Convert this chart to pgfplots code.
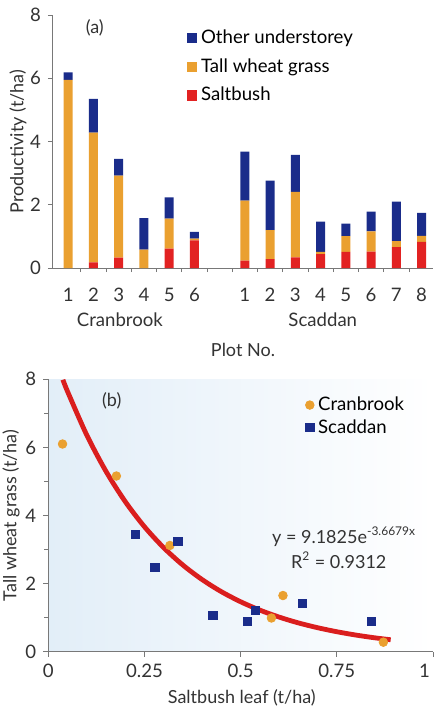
\documentclass[border=0pt]{standalone}
\usepackage{fontspec}
\setmainfont{Lato}
\usepackage{pgfplots}
\pgfplotsset{compat=1.18}

\definecolor{otherblue}{RGB}{26,44,138}
\definecolor{wheatorange}{RGB}{234,160,48}
\definecolor{saltred}{RGB}{226,34,34}
\definecolor{fitred}{RGB}{218,30,30}
\definecolor{axisgrey}{RGB}{120,120,120}
\definecolor{paleblue}{RGB}{226,238,248}

\pgfplotsset{
  common/.style={
    scale only axis,
    axis x line*=bottom, axis y line*=left,
    axis line style={axisgrey, line width=0.5pt},
    tick style={axisgrey, line width=0.4pt},
    tick align=outside,
    major tick length=2.5pt, minor tick length=2pt,
    /pgf/number format/assume math mode=true,
    tick label style={font=\fontsize{9.3}{11}\selectfont, text=black!80},
    label style={font=\fontsize{9}{11}\selectfont, text=black!80},
  },
  sqlegend/.style={legend image code/.code={\fill[##1] (0pt,-2.6pt) rectangle (5.2pt,2.6pt);}},
}

\begin{document}
\begin{tikzpicture}[font=\fontsize{9}{11}\selectfont]
\path[use as bounding box] (0,0) rectangle (217pt,-356.5pt);

% (a) stacked bars
\begin{axis}[common,
  at={(26.5pt,-134pt)}, anchor=south west,
  width=190pt, height=126.5pt,
  clip=false,
  ybar stacked, bar width=0.36,
  xmin=0.4, xmax=15.45, ymin=0, ymax=8,
  xtick={1,2,3,4,5,6,8,9,10,11,12,13,14,15},
  xticklabels={1,2,3,4,5,6,1,2,3,4,5,6,7,8},
  major x tick style={draw=none},
  minor xtick={1.5,2.5,...,14.5},
  ytick={0,2,4,6,8},
  xticklabel style={yshift=-4pt},
  xlabel={Plot No.},
  xlabel style={at={(axis description cs:0.5,-0.324)}, anchor=center},
  ylabel={Productivity (t/ha)},
  ylabel style={at={(axis description cs:-0.092,0.5)}, anchor=center},
  reverse legend,
  legend cell align=left,
  legend style={at={(axis description cs:0.335,0.975)}, anchor=north west,
    draw=none, fill=none, row sep=2pt, font=\fontsize{9.3}{11}\selectfont},
]
\addplot[fill=saltred, draw=none, sqlegend]
  coordinates {(1,0) (2,0.18) (3,0.33) (4,0) (5,0.61) (6,0.87)
    (8,0.23) (9,0.28) (10,0.34) (11,0.44) (12,0.51) (13,0.52) (14,0.66) (15,0.83)};
\addplot[fill=wheatorange, draw=none, sqlegend]
  coordinates {(1,5.95) (2,4.10) (3,2.59) (4,0.58) (5,0.95) (6,0.06)
    (8,1.90) (9,0.92) (10,2.07) (11,0.07) (12,0.50) (13,0.64) (14,0.19) (15,0.19)};
\addplot[fill=otherblue, draw=none, sqlegend]
  coordinates {(1,0.24) (2,1.07) (3,0.53) (4,1.00) (5,0.67) (6,0.21)
    (8,1.55) (9,1.56) (10,1.17) (11,0.96) (12,0.39) (13,0.62) (14,1.25) (15,0.72)};
\legend{Saltbush, Tall wheat grass, Other understorey}
\node[text=black!80] at (axis description cs:0.11,0.949) {(a)};
\node[text=black!80, font=\fontsize{9.3}{11}\selectfont] at (axis description cs:0.176,-0.206) {Cranbrook};
\node[text=black!80, font=\fontsize{9.3}{11}\selectfont] at (axis description cs:0.71,-0.206) {Scaddan};
\end{axis}

% (b) scatter with exponential fit
\begin{axis}[common,
  at={(24.15pt,-325.85pt)}, anchor=south west,
  width=192.35pt, height=136.2pt,
  xmin=0, xmax=1, ymin=0, ymax=8,
  xtick={0,0.25,0.5,0.75},
  xticklabels={0,0.25,0.5,0.75},
  extra x ticks={1},
  extra x tick labels={1},
  extra x tick style={xticklabel style={anchor=north east, xshift=2pt}},
  ytick={0,2,4,6,8},
  minor ytick={1,3,5,7},
  axis background/.style={left color=paleblue, right color=white},
  xlabel={Saltbush leaf (t/ha)},
  xlabel style={at={(axis description cs:0.503,-0.17)}, anchor=center},
  ylabel={Tall wheat grass (t/ha)},
  ylabel style={at={(axis description cs:-0.097,0.5)}, anchor=center},
  legend cell align=left,
  legend style={at={(axis description cs:0.652,0.967)}, anchor=north west,
    draw=none, fill=none, row sep=-1pt, font=\fontsize{9.3}{11}\selectfont},
]
\addplot[fitred, line width=2.4pt, smooth, forget plot] coordinates {
  (0.038,7.988) (0.05,7.644) (0.1,6.363) (0.15,5.297) (0.2,4.409)
  (0.25,3.670) (0.3,3.055) (0.35,2.543) (0.4,2.117) (0.45,1.762)
  (0.5,1.467) (0.55,1.221) (0.6,1.017) (0.65,0.846) (0.7,0.705)
  (0.75,0.587) (0.8,0.488) (0.85,0.406) (0.89,0.351)};
\addplot[only marks, mark=*, mark size=2.15pt, color=wheatorange] coordinates {
  (0.037,6.10) (0.177,5.16) (0.316,3.12) (0.58,0.99) (0.61,1.65) (0.871,0.28)};
\addplot[only marks, mark=square*, mark size=2.05pt, color=otherblue] coordinates {
  (0.227,3.45) (0.277,2.47) (0.337,3.24) (0.428,1.06) (0.518,0.90)
  (0.539,1.22) (0.661,1.42) (0.84,0.90)};
\legend{Cranbrook, Scaddan}
\node[text=black!80] at (axis description cs:0.165,0.92) {(b)};
\node[text=black!80] at (axis cs:0.769,3.38) {y = 9.1825e\textsuperscript{-3.6679x}};
\node[text=black!80] at (axis cs:0.755,2.69) {R\textsuperscript{2} = 0.9312};
\end{axis}
\end{tikzpicture}
\end{document}
